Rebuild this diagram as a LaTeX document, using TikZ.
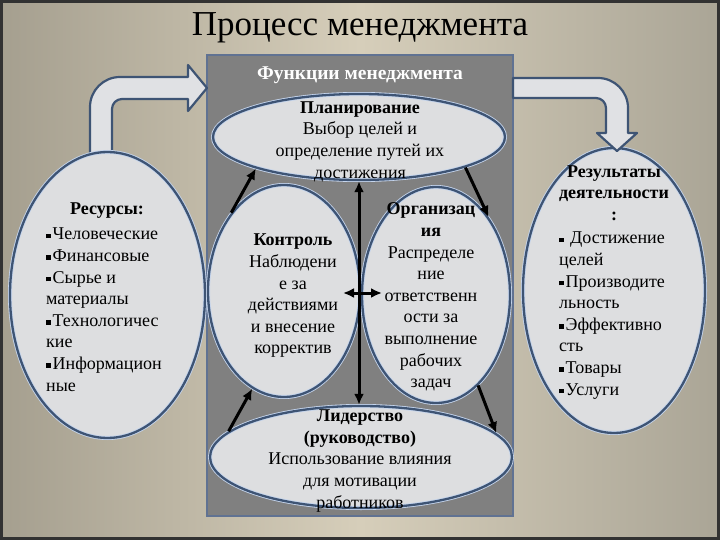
\documentclass[tikz,border=0pt]{standalone}
\usepackage{fontspec}
\setmainfont{Liberation Serif}
\usetikzlibrary{shapes.geometric,arrows.meta}
\newcommand{\bul}{\raisebox{0.1em}{\rule{0.26em}{0.26em}}\hspace{0.1em}}
\definecolor{bgL}{RGB}{165,159,143}
\definecolor{bgM}{RGB}{214,206,186}
\definecolor{bgR}{RGB}{170,165,150}
\definecolor{framec}{RGB}{50,50,50}
\definecolor{ellF}{RGB}{221,222,224}
\definecolor{ellB}{RGB}{62,84,116}
\definecolor{halo}{RGB}{196,212,236}
\definecolor{boxF}{RGB}{128,128,128}
\definecolor{boxB}{RGB}{96,114,146}
\definecolor{arrF}{RGB}{224,225,228}
\tikzset{
  ell/.style={ellipse, draw=halo, fill=ellF, line width=4pt, inner sep=0pt, outer sep=1.2pt,
    postaction={draw=ellB, line width=2.3pt}},
  txt/.style={font=\fontsize{18}{21.6}\selectfont, inner sep=0pt, align=center},
  ltxt/.style={font=\fontsize{18}{21.6}\selectfont, inner sep=0pt, align=left, anchor=north west},
  bent/.style={draw=ellB, fill=arrF, line width=2.2pt, line join=round},
  conn/.style={line width=3pt, black, -{Latex[length=11pt,width=10pt]}},
  conn2/.style={line width=3pt, black, {Latex[length=11pt,width=10pt]}-{Latex[length=11pt,width=10pt]}}
}
\begin{document}
\begin{tikzpicture}[x=1pt,y=-1pt]
\useasboundingbox (0,0) rectangle (720,540);
\shade[left color=bgL, right color=bgR, middle color=bgM] (0,0) rectangle (720,540);
\draw[framec, line width=3pt] (1.5,1.5) rectangle (718.5,538.5);

\node[font=\fontsize{35}{40}\selectfont, inner sep=0pt] (title) at (360,28) {Процесс менеджмента};

% central box
\node[draw=boxB, fill=boxF, line width=2.4pt, minimum width=306pt, minimum height=461pt, inner sep=0pt] (box) at (360,285.5) {};
\node[font=\bfseries\fontsize{19.5}{22}\selectfont, text=white, inner sep=0pt] (hdr) at (360,75) {Функции менеджмента};

% left bent arrow
\draw[bent] (90,170) -- (90,107) .. controls (90,90.4) and (103.4,77) .. (120,77)
  -- (188,77) -- (188,65) -- (207,88) -- (188,111) -- (188,99) -- (122,99)
  .. controls (116.5,99) and (112,103.5) .. (112,109) -- (112,170) -- cycle;

% side ellipses
\node[ell, minimum width=195pt, minimum height=286pt] (res) at (107.5,295) {};
\node[ell, minimum width=182pt, minimum height=285pt] (out) at (614,290.5) {};

% right bent arrow
\draw[bent] (513,78) -- (598,78) .. controls (614.6,78) and (628,91.4) .. (628,108)
  -- (628,133) -- (637,133) -- (617,151) -- (597,133) -- (606,133) -- (606,108)
  .. controls (606,102.5) and (601.5,98) .. (596,98) -- (513,98) -- cycle;

% inner ellipses
\node[ell, minimum width=292pt, minimum height=86pt] (plan) at (359,137) {};
\node[ell, minimum width=152pt, minimum height=212pt] (ctl) at (284,291) {};
\node[ell, minimum width=148pt, minimum height=216pt] (org) at (436,295) {};
\node[ell, minimum width=302pt, minimum height=102pt] (lead) at (361,457) {};

% texts
\node[txt] (tres) at (107,211) {\textbf{Ресурсы:}};
\node[ltxt] (lres) at (46,228) {\bul Человеческие\\ \bul Финансовые\\ \bul Сырье и\\ материалы\\ \bul Технологичес\\ кие\\ \bul Информацион\\ ные};
\node[txt] (tout) at (614,193) {\textbf{Результаты}\\ \textbf{деятельности}\\ \textbf{:}};
\node[ltxt] (lout) at (559,232) {\bul\ Достижение\\ целей\\ \bul Производите\\ льность\\ \bul Эффективно\\ сть\\ \bul Товары\\ \bul Услуги};
\node[txt] (tplan) at (360,141.5) {\textbf{Планирование}\\ Выбор целей и\\ определение путей их\\ достижения};
\node[txt] (tctl) at (293,296) {\textbf{Контроль}\\ Наблюдени\\ е за\\ действиями\\ и внесение\\ корректив};
\node[txt] (torg) at (431,297) {\textbf{Организац}\\ \textbf{ия}\\ Распределе\\ ние\\ ответственн\\ ости за\\ выполнение\\ рабочих\\ задач};
\node[txt] (tlead) at (360,461) {\textbf{Лидерство}\\ \textbf{(руководство)}\\ Использование влияния\\ для мотивации\\ работников};

% connectors
\draw[conn] (ctl.124) -- (plan.197);
\draw[conn] (plan.344) -- (org.56);
\draw[conn] (org.295) -- (lead.10);
\draw[conn] (lead.169) -- (ctl.252);
\draw[conn2] (plan.south) -- (plan.south |- lead.north);
\coordinate (hl) at (343,293);
\coordinate (hr) at (382,293);
\draw[conn2] (hl) -- (hr);
\end{tikzpicture}
\end{document}
